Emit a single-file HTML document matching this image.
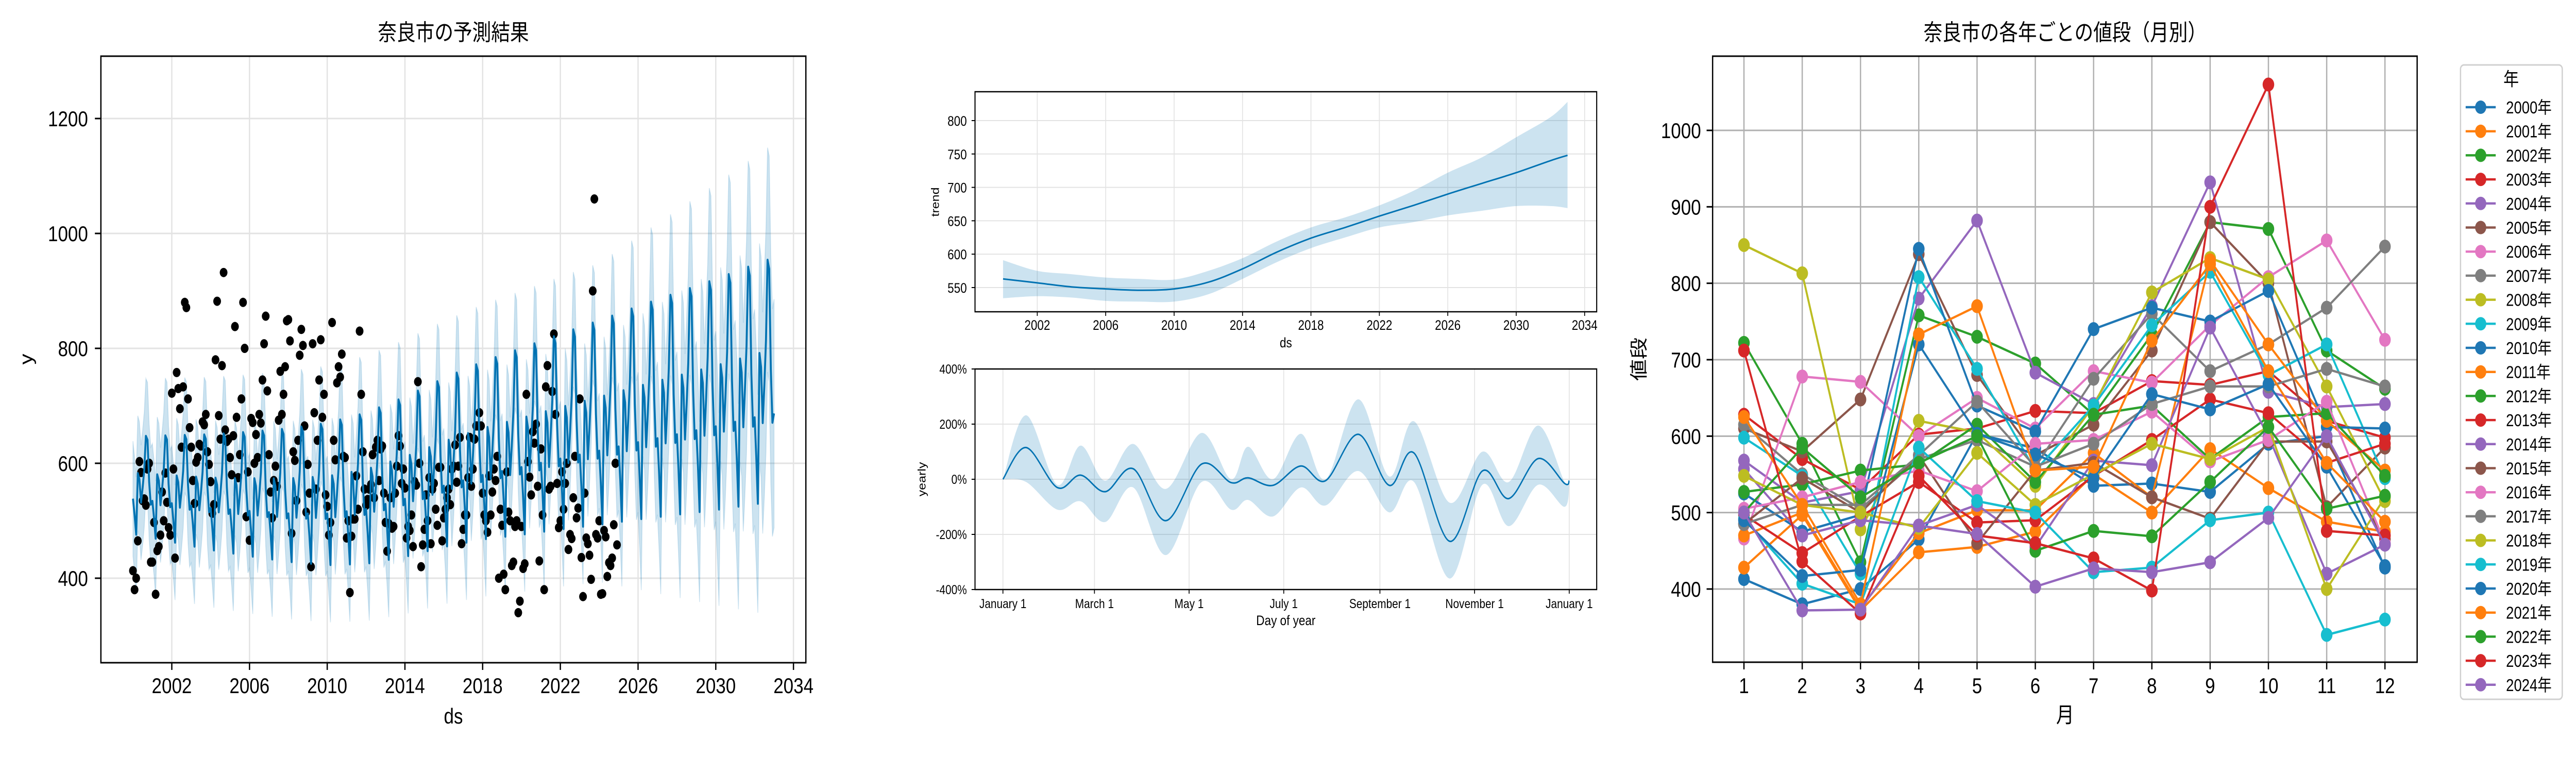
<!DOCTYPE html>
<html><head><meta charset="utf-8">
<style>
html,body{margin:0;padding:0;background:#fff;overflow:hidden;width:100%;height:100%;}
svg{display:block;width:100vw;height:100vh;}
text{font-family:"Liberation Sans","Noto Sans CJK JP",sans-serif;fill:#000;}
</style></head>
<body>
<svg id="chart" xmlns="http://www.w3.org/2000/svg" viewBox="0 0 6000 1500" preserveAspectRatio="none">
<defs>
<clipPath id="clip1"><rect x="235" y="109" width="1642" height="1177"/></clipPath>
<clipPath id="clip3"><rect x="3989" y="109" width="1641" height="1176"/></clipPath>
</defs>
<rect x="0" y="0" width="6000" height="1500" fill="#fff"/>
<g id="p1">
<g id="p1grid"></g>
<g id="p1data" clip-path="url(#clip1)"></g>
<rect x="235" y="109" width="1642" height="1177" fill="none" stroke="#000" stroke-width="3"/>
<g id="p1ticks"></g>
<text x="1056" y="78" font-size="44" text-anchor="middle">奈良市の予測結果</text>
<text x="1056" y="1404" font-size="42" text-anchor="middle">ds</text>
<text x="0" y="0" font-size="42" text-anchor="middle" transform="translate(75,697) rotate(-90)">y</text>
</g>
<g id="p2">
<g id="p2grid"></g>
<g id="p2data"></g>
<rect x="2271" y="178" width="1448" height="427" fill="none" stroke="#000" stroke-width="2.5"/>
<g id="p2ticks"></g>
<text x="2995" y="674" font-size="27" text-anchor="middle">ds</text>
<text x="0" y="0" font-size="25" text-anchor="middle" transform="translate(2187,392) rotate(-90)">trend</text>
<g id="p3grid"></g>
<g id="p3data"></g>
<rect x="2271" y="716" width="1448" height="428" fill="none" stroke="#000" stroke-width="2.5"/>
<g id="p3ticks"></g>
<text x="2995" y="1213" font-size="27" text-anchor="middle">Day of year</text>
<text x="0" y="0" font-size="25" text-anchor="middle" transform="translate(2156,930) rotate(-90)">yearly</text>
</g>
<g id="p4">
<g id="p4grid"></g>
<g id="p4data" clip-path="url(#clip3)"></g>
<rect x="3989" y="109" width="1641" height="1176" fill="none" stroke="#000" stroke-width="3"/>
<g id="p4ticks"></g>
<text x="4810" y="78" font-size="44" text-anchor="middle">奈良市の各年ごとの値段（月別）</text>
<text x="4810" y="1402" font-size="42" text-anchor="middle">月</text>
<text x="0" y="0" font-size="42" text-anchor="middle" transform="translate(3832,697) rotate(-90)">値段</text>
<rect x="5731" y="126" width="237" height="1231" rx="8" fill="#fff" fill-opacity="0.8" stroke="#d0d0d0" stroke-width="3"/>
<text x="5849" y="166" font-size="36" text-anchor="middle">年</text>
<g id="legend"></g>
</g>
</svg>
<script>
// ---------- Data ----------
const years = [2000,2001,2002,2003,2004,2005,2006,2007,2008,2009,2010,2011,2012,2013,2014,2015,2016,2017,2018,2019,2020,2021,2022,2023,2024];
const months = [1,2,3,4,5,6,7,8,9,10,11,12];
const p2000 = [413,380,400,465,603,584,535,538,527,590,600,428];
const p2001 = [428,497,372,448,455,475,550,500,583,532,488,475];
const p2002 = [722,590,435,758,730,695,628,733,880,871,712,662];
const p2003 = [628,570,530,602,610,633,630,672,667,685,620,598];
const p2004 = [568,513,528,780,882,683,642,770,932,658,638,642];
const p2005 = [610,580,648,838,680,575,615,712,880,800,507,585];
const p2006 = [466,678,671,600,650,610,685,670,745,808,856,726];
const p2007 = [615,550,505,570,595,560,675,760,685,720,768,848];
const p2008 = [850,813,478,620,605,535,640,788,833,805,665,515];
const p2009 = [598,548,420,808,688,555,640,745,815,680,720,545];
const p2010 = [525,475,497,845,640,606,740,768,750,790,612,610];
const p2011 = [470,500,375,473,503,503,578,520,830,720,620,555];
const p2012 = [527,537,555,563,615,540,628,640,570,625,630,548];
const p2013 = [497,447,495,540,487,490,548,595,648,630,565,590];
const p2014 = [557,470,490,483,510,455,568,562,742,600,420,458];
const p2015 = [485,545,500,575,460,555,565,520,492,593,593,465];
const p2016 = [505,520,540,555,528,590,595,632,567,595,645,460];
const p2017 = [485,510,510,575,645,560,590,642,665,665,688,665];
const p2018 = [548,510,500,480,578,510,550,590,570,612,400,520];
const p2019 = [492,407,380,585,515,500,422,428,490,500,340,360];
const p2020 = [490,417,425,720,603,576,545,655,635,668,560,430];
const p2021 = [625,510,380,733,770,555,560,725,825,685,565,488];
const p2022 = [500,585,520,565,600,450,476,469,540,612,505,522];
const p2023 = [712,436,368,548,470,460,440,398,900,1060,476,470];
const p2024 = [500,372,373,483,472,403,427,422,435,493,600,458];
const prices = [p2000,p2001,p2002,p2003,p2004,p2005,p2006,p2007,p2008,p2009,p2010,p2011,p2012,p2013,p2014,p2015,p2016,p2017,p2018,p2019,p2020,p2021,p2022,p2023,p2024];

const trendYears = [2000,2002,2004,2006,2008,2010,2012,2014,2016,2018,2020,2022,2024,2026,2028,2030,2032,2033];
const trendVals  = [563,557,551,548,546,548,558,578,603,624,640,657,673,690,706,722,740,748];
const trendLo    = [534,537,535,530,529,529,540,563,588,609,625,640,648,658,665,672,672,669];
const trendHi    = [591,575,570,565,563,562,575,594,619,640,655,673,695,722,745,775,805,828];

const yearlyDays = [0,15,35,50,66,84,105,128,147,158,174,192,208,229,249,265,288,309,326,345,362,365];
const yearlyVals = [0,115,-30,15,-45,38,-150,55,-12,5,-22,48,-5,163,-22,95,-225,30,-70,75,-15,-5];
const yearlyLo   = [0,-10,-110,-80,-155,-30,-275,-10,-110,-75,-135,-30,-95,30,-120,-10,-360,-20,-170,-20,-100,-10];
const yearlyHi   = [0,232,-20,122,-5,128,-35,168,0,118,0,165,0,290,10,210,-85,100,-10,195,-10,-5];

const xTicks1 = [2002,2006,2010,2014,2018,2022,2026,2030,2034];
const yTicks1 = [400,600,800,1000,1200];
const yTicksTrend = [550,600,650,700,750,800];
const yTicksYearly = [-400,-200,0,200,400];
const yTickLabelsYearly = ['-400%','-200%','0%','200%','400%'];
const dayTicks = [0,59,120,181,243,304,365];
const dayTickLabels = ['January 1','March 1','May 1','July 1','September 1','November 1','January 1'];
const yTicks3 = [400,500,600,700,800,900,1000];
const colors = ['#1f77b4','#ff7f0e','#2ca02c','#d62728','#9467bd','#8c564b','#e377c2','#7f7f7f','#bcbd22','#17becf'];

// ---------- Scales ----------
const NS = 'http://www.w3.org/2000/svg';
const x1 = t => 235 + (t - 1998.35) * 45.25;
const y1 = v => 230 + (1200 - v) * 1.115;
const x2 = t => 2271 + (t - 1998.36) * 39.84;
const y2 = v => 234 + (800 - v) * 1.296;
const xd = d => 2336 + d * 1319 / 365;
const yp = p => 930 - p * 0.535;
const x3 = m => 4062 + (m - 1) * 135.73;
const y3 = v => 253 + (1000 - v) * 1.4833;

function mk(tag, attrs, parent) {
  const e = document.createElementNS(NS, tag);
  for (const k in attrs) e.setAttribute(k, attrs[k]);
  parent.appendChild(e);
  return e;
}
function lerp(xs, ys, x) {
  if (x <= xs[0]) return ys[0];
  for (let i = 1; i < xs.length; i++) {
    if (x <= xs[i]) { const f = (x - xs[i-1]) / (xs[i] - xs[i-1]); return ys[i-1] + f * (ys[i] - ys[i-1]); }
  }
  return ys[ys.length - 1];
}
function smoothPath(pts) {
  let d = 'M' + pts[0][0].toFixed(1) + ',' + pts[0][1].toFixed(1);
  for (let i = 0; i < pts.length - 1; i++) {
    const p0 = pts[Math.max(0, i-1)], p1 = pts[i], p2 = pts[i+1], p3 = pts[Math.min(pts.length-1, i+2)];
    const c1x = p1[0] + (p2[0]-p0[0])/6, c1y = p1[1] + (p2[1]-p0[1])/6;
    const c2x = p2[0] - (p3[0]-p1[0])/6, c2y = p2[1] - (p3[1]-p1[1])/6;
    d += ' C' + c1x.toFixed(1) + ',' + c1y.toFixed(1) + ' ' + c2x.toFixed(1) + ',' + c2y.toFixed(1) + ' ' + p2[0].toFixed(1) + ',' + p2[1].toFixed(1);
  }
  return d;
}
function poly(pts) { return pts.map((p, i) => (i ? 'L' : 'M') + p[0].toFixed(1) + ',' + p[1].toFixed(1)).join(' '); }

// ---------- Panel 1: forecast ----------
const g1 = document.getElementById('p1grid'), d1 = document.getElementById('p1data'), t1 = document.getElementById('p1ticks');
xTicks1.forEach(t => {
  const gl = mk('line', {x1: x1(t), x2: x1(t), y1: 109, y2: 1286, stroke: '#e3e3e3', 'stroke-width': 3}, g1);
  
  
  const tk = mk('line', {x1: x1(t), x2: x1(t), y1: 1286, y2: 1300, stroke: '#000', 'stroke-width': 3}, t1);
  
  
  const tl = mk('text', {x: x1(t), y: 1345, 'font-size': 42, 'text-anchor': 'middle'}, t1);
  tl.textContent = t;
  
  
});
yTicks1.forEach(v => {
  const gl = mk('line', {x1: 235, x2: 1877, y1: y1(v), y2: y1(v), stroke: '#e3e3e3', 'stroke-width': 3}, g1);
  
  
  const tk = mk('line', {x1: 221, x2: 235, y1: y1(v), y2: y1(v), stroke: '#000', 'stroke-width': 3}, t1);
  
  
  const tl = mk('text', {x: 205, y: y1(v) + 15, 'font-size': 42, 'text-anchor': 'end'}, t1);
  tl.textContent = v;
  
  
});
// monthly seasonal offsets estimated from the observed prices
const seas = months.map((m, mi) => {
  let s = 0;
  prices.forEach(row => { const avg = row.reduce((a, b) => a + b, 0) / 12; s += row[mi] - avg; });
  return s / prices.length;
});
const fc = [];
for (let y = 2000; y <= 2033; y++) {
  for (let m = 0; m < 12; m++) {
    const t = y + m / 12;
    if (t > 2033.01) break;
    const g = 0.8 + 1.2 * (t - 2000) / 33;
    const yh = lerp(trendYears, trendVals, t) + g * seas[m];
    const w = 100 + Math.max(0, t - 2024) * 11;
    fc.push([t, yh, yh - w, yh + w]);
  }
}
const bandPts = fc.map(p => [x1(p[0]), y1(p[3])]).concat(fc.slice().reverse().map(p => [x1(p[0]), y1(p[2])]));
const band1 = mk('path', {d: poly(bandPts) + ' Z', fill: '#0072B2', 'fill-opacity': 0.2, stroke: '#0072B2', 'stroke-opacity': 0.15, 'stroke-width': 2}, d1);


prices.forEach((row, yi) => {
  row.forEach((v, mi) => {
    const c = mk('circle', {cx: x1(years[yi] + mi / 12), cy: y1(v), r: 9, fill: '#000'}, d1);
    
    
  });
});
const line1 = mk('path', {d: poly(fc.map(p => [x1(p[0]), y1(p[1])])), fill: 'none', stroke: '#0072B2', 'stroke-width': 4.5, 'stroke-linejoin': 'round'}, d1);



// ---------- Panel 2: trend ----------
const g2 = document.getElementById('p2grid'), d2 = document.getElementById('p2data'), t2 = document.getElementById('p2ticks');
xTicks1.forEach(t => {
  const gl = mk('line', {x1: x2(t), x2: x2(t), y1: 178, y2: 605, stroke: '#e3e3e3', 'stroke-width': 2}, g2);
  
  
  const tk = mk('line', {x1: x2(t), x2: x2(t), y1: 605, y2: 613, stroke: '#000', 'stroke-width': 2}, t2);
  
  
  const tl = mk('text', {x: x2(t), y: 640, 'font-size': 27, 'text-anchor': 'middle'}, t2);
  tl.textContent = t;
  
  
});
yTicksTrend.forEach(v => {
  const gl = mk('line', {x1: 2271, x2: 3719, y1: y2(v), y2: y2(v), stroke: '#e3e3e3', 'stroke-width': 2}, g2);
  
  
  const tk = mk('line', {x1: 2263, x2: 2271, y1: y2(v), y2: y2(v), stroke: '#000', 'stroke-width': 2}, t2);
  
  
  const tl = mk('text', {x: 2252, y: y2(v) + 10, 'font-size': 27, 'text-anchor': 'end'}, t2);
  tl.textContent = v;
  
  
});
const tb = trendYears.map((t, i) => [x2(t), y2(trendHi[i])]).concat(trendYears.map((t, i) => [x2(t), y2(trendLo[i])]).reverse());
const tband = mk('path', {d: smoothPath(tb.slice(0, trendYears.length)) + ' L' + smoothPath(tb.slice(trendYears.length)).slice(1) + ' Z', fill: '#0072B2', 'fill-opacity': 0.2, stroke: 'none'}, d2);


const tline = mk('path', {d: smoothPath(trendYears.map((t, i) => [x2(t), y2(trendVals[i])])), fill: 'none', stroke: '#0072B2', 'stroke-width': 3}, d2);



// ---------- Panel 3: yearly ----------
const g3 = document.getElementById('p3grid'), d3 = document.getElementById('p3data'), t3 = document.getElementById('p3ticks');
dayTicks.forEach((d, i) => {
  const gl = mk('line', {x1: xd(d), x2: xd(d), y1: 716, y2: 1144, stroke: '#e3e3e3', 'stroke-width': 2}, g3);
  
  
  const tk = mk('line', {x1: xd(d), x2: xd(d), y1: 1144, y2: 1152, stroke: '#000', 'stroke-width': 2}, t3);
  
  
  const tl = mk('text', {x: xd(d), y: 1180, 'font-size': 25, 'text-anchor': 'middle'}, t3);
  tl.textContent = dayTickLabels[i];
  
  
});
yTicksYearly.forEach((v, i) => {
  const gl = mk('line', {x1: 2271, x2: 3719, y1: yp(v), y2: yp(v), stroke: '#e3e3e3', 'stroke-width': 2}, g3);
  
  
  const tk = mk('line', {x1: 2263, x2: 2271, y1: yp(v), y2: yp(v), stroke: '#000', 'stroke-width': 2}, t3);
  
  
  const tl = mk('text', {x: 2252, y: yp(v) + 9, 'font-size': 25, 'text-anchor': 'end'}, t3);
  tl.textContent = yTickLabelsYearly[i];
  
  
});
const upY = yearlyDays.map((d, i) => [xd(d), yp(yearlyHi[i])]);
const loY = yearlyDays.map((d, i) => [xd(d), yp(yearlyLo[i])]).reverse();
const yband = mk('path', {d: smoothPath(upY) + ' L' + smoothPath(loY).slice(1) + ' Z', fill: '#0072B2', 'fill-opacity': 0.2, stroke: 'none'}, d3);


const yline = mk('path', {d: smoothPath(yearlyDays.map((d, i) => [xd(d), yp(yearlyVals[i])])), fill: 'none', stroke: '#0072B2', 'stroke-width': 3}, d3);



// ---------- Panel 4: monthly by year ----------
const g4 = document.getElementById('p4grid'), d4 = document.getElementById('p4data'), t4 = document.getElementById('p4ticks'), lg = document.getElementById('legend');
months.forEach(m => {
  const gl = mk('line', {x1: x3(m), x2: x3(m), y1: 109, y2: 1285, stroke: '#b0b0b0', 'stroke-width': 3}, g4);
  
  
  const tk = mk('line', {x1: x3(m), x2: x3(m), y1: 1285, y2: 1299, stroke: '#000', 'stroke-width': 3}, t4);
  
  
  const tl = mk('text', {x: x3(m), y: 1345, 'font-size': 42, 'text-anchor': 'middle'}, t4);
  tl.textContent = m;
  
  
});
yTicks3.forEach(v => {
  const gl = mk('line', {x1: 3989, x2: 5630, y1: y3(v), y2: y3(v), stroke: '#b0b0b0', 'stroke-width': 3}, g4);
  
  
  const tk = mk('line', {x1: 3975, x2: 3989, y1: y3(v), y2: y3(v), stroke: '#000', 'stroke-width': 3}, t4);
  
  
  const tl = mk('text', {x: 3962, y: y3(v) + 15, 'font-size': 42, 'text-anchor': 'end'}, t4);
  tl.textContent = v;
  
  
});
prices.forEach((row, yi) => {
  const col = colors[yi % 10];
  const sg = mk('g', {}, d4);
  
  
  const ln = mk('path', {d: poly(row.map((v, mi) => [x3(months[mi]), y3(v)])), fill: 'none', stroke: col, 'stroke-width': 4.5, 'stroke-linejoin': 'round'}, sg);
  
  
  row.forEach((v, mi) => {
    const c = mk('circle', {cx: x3(months[mi]), cy: y3(v), r: 13.5, fill: col}, sg);
    
    
  });
  const ly = 208 + yi * 46.7;
  const le = mk('g', {}, lg);
  
  
  mk('line', {x1: 5743, x2: 5813, y1: ly, y2: ly, stroke: col, 'stroke-width': 4.5}, le);
  mk('circle', {cx: 5778, cy: ly, r: 13, fill: col}, le);
  const lt = mk('text', {x: 5837, y: ly + 12, 'font-size': 33}, le);
  lt.textContent = years[yi] + '年';
  
  
});
</script>
</body></html>
